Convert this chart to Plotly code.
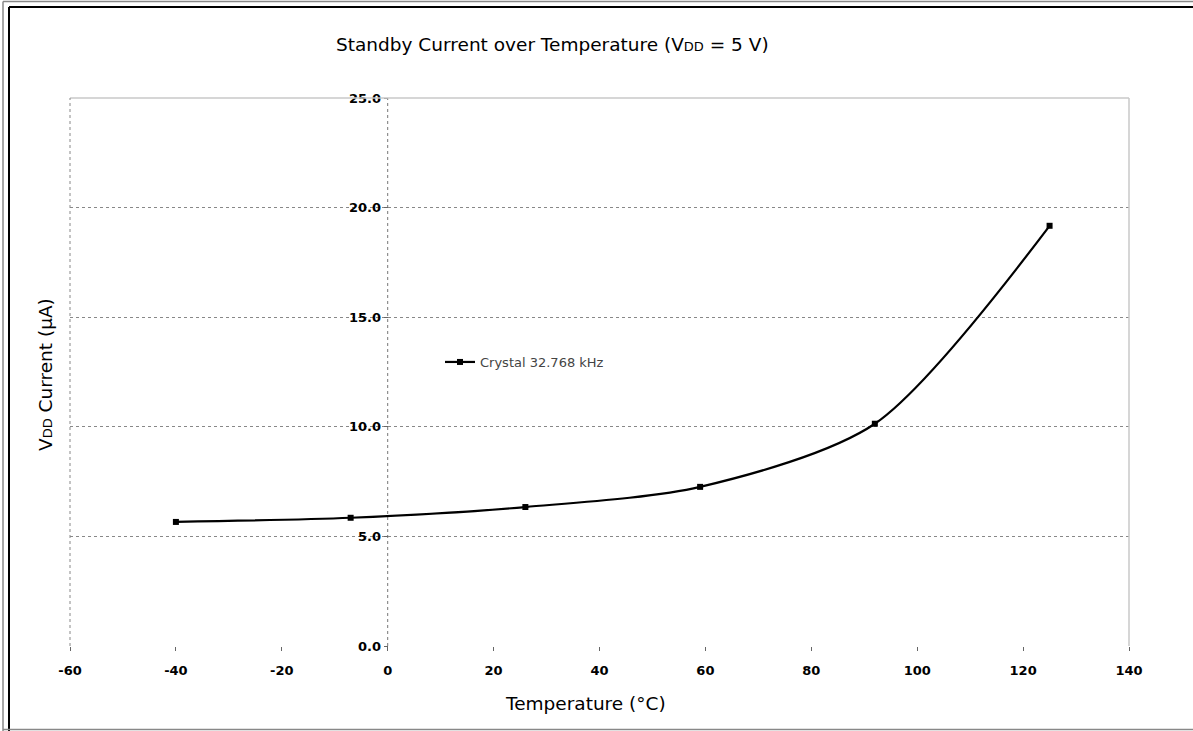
import plotly.graph_objects as go

# ---- data ----
temperature_c = [-40, -7, 26, 59, 92, 125]
standby_current_ua = [5.66, 5.85, 6.34, 7.26, 10.14, 19.17]
series_name = "Crystal 32.768 kHz"
x_ticks = [-60, -40, -20, 0, 20, 40, 60, 80, 100, 120, 140]
y_ticks = [0, 5, 10, 15, 20, 25]

W, H = 1193, 731
L, R, T, B = 70, 64, 98, 85
PW, PH = W - L - R, H - T - B


def px(xp):
    return (xp - L) / PW


def py(yp):
    return (H - B - yp) / PH


FONT = "DejaVu Sans, Liberation Sans, Arial, sans-serif"

fig = go.Figure()
fig.add_trace(go.Scatter(
    x=temperature_c, y=standby_current_ua, name=series_name,
    mode="lines+markers",
    line=dict(color="black", width=2.2, shape="spline", smoothing=0.8),
    marker=dict(symbol="square", size=6, color="black"),
))

shapes = []
# y axis line at x=0 (dotted)
shapes.append(dict(type="line", xref="x", yref="y", x0=0, x1=0, y0=0, y1=25,
                   line=dict(color="#777", width=1, dash="dot"), layer="below"))
# plot-area border: top & right solid light grey, left dotted
shapes.append(dict(type="line", xref="paper", yref="paper", x0=0, x1=1, y0=1, y1=1,
                   line=dict(color="#c8c8c8", width=1.5)))
shapes.append(dict(type="line", xref="paper", yref="paper", x0=1, x1=1, y0=0, y1=1,
                   line=dict(color="#c8c8c8", width=1.5)))
shapes.append(dict(type="line", xref="paper", yref="paper", x0=0, x1=0, y0=0, y1=1,
                   line=dict(color="#888", width=1, dash="dot")))
# outer double frame
shapes.append(dict(type="line", xref="paper", yref="paper", x0=px(3), x1=px(W), y0=py(1.5), y1=py(1.5),
                   line=dict(color="#888", width=1.5)))
shapes.append(dict(type="line", xref="paper", yref="paper", x0=px(3), x1=px(3), y0=py(1.5), y1=py(H),
                   line=dict(color="#888", width=1.5)))
shapes.append(dict(type="line", xref="paper", yref="paper", x0=px(9), x1=px(W), y0=py(7), y1=py(7),
                   line=dict(color="black", width=2)))
shapes.append(dict(type="line", xref="paper", yref="paper", x0=px(9), x1=px(9), y0=py(7), y1=py(H),
                   line=dict(color="black", width=2)))
shapes.append(dict(type="line", xref="paper", yref="paper", x0=px(3), x1=px(W), y0=py(729.5), y1=py(729.5),
                   line=dict(color="#888", width=1.5)))

annotations = [
    dict(text="Standby Current over Temperature (V<span style='font-size:13px'>DD</span> = 5 V)",
         xref="paper", yref="paper", x=px(552), y=py(45), showarrow=False,
         font=dict(family=FONT, size=18.5, color="black"), xanchor="center", yanchor="middle"),
    dict(text="Temperature (°C)", xref="paper", yref="paper", x=px(585), y=py(703),
         showarrow=False, font=dict(family=FONT, size=18.5, color="black"),
         xanchor="center", yanchor="middle"),
    dict(text="V<span style='font-size:13px'>DD</span> Current (µA)", xref="paper", yref="paper",
         x=px(45), y=py(375), textangle=-90, showarrow=False,
         font=dict(family=FONT, size=18.5, color="black"), xanchor="center", yanchor="middle"),
]

fig.update_layout(
    width=W, height=H,
    margin=dict(l=L, r=R, t=T, b=B),
    paper_bgcolor="white", plot_bgcolor="white",
    showlegend=True,
    legend=dict(x=px(440), y=py(362), xanchor="left", yanchor="middle",
                bgcolor="rgba(0,0,0,0)", font=dict(family=FONT, size=13, color="#444"),
                itemwidth=30),
    shapes=shapes,
    annotations=annotations,
    xaxis=dict(range=[-60, 140], tickvals=x_ticks, ticktext=[str(v) for v in x_ticks],
               showgrid=False, zeroline=False, showline=False,
               ticks="outside", ticklen=4, tickcolor="#666", ticklabelstandoff=8,
               tickfont=dict(family=FONT, size=13, color="black", weight="bold")),
    yaxis=dict(range=[0, 25], tickvals=y_ticks, tickformat=".1f",
               anchor="free", position=0.3, side="left",
               showgrid=True, gridcolor="#888", griddash="dot", gridwidth=1,
               zeroline=False, showline=False,
               ticks="outside", ticklen=4, tickcolor="#666",
               tickfont=dict(family=FONT, size=13, color="black", weight="bold")),
)

fig.write_html("out.html", post_script="document.body.style.margin='0';",
               config={"displayModeBar": False})
